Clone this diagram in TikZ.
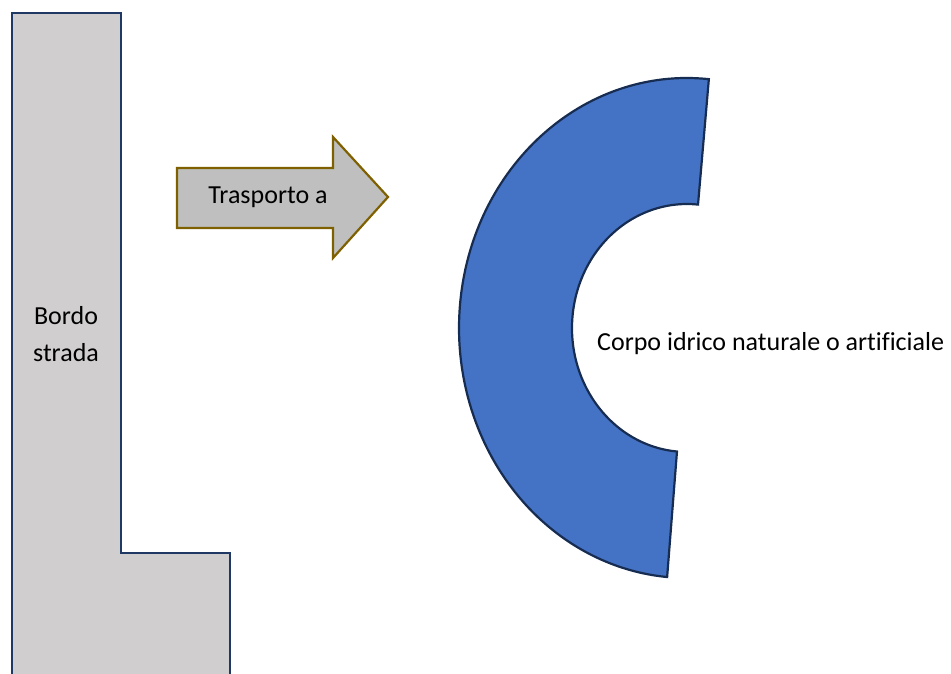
\documentclass[tikz,border=0pt]{standalone}
\usepackage{fontspec}
\setmainfont{Carlito}[Ligatures=NoCommon]
\usepackage{tikz}
\usetikzlibrary{calc}

\definecolor{roadgray}{HTML}{D0CECE}
\definecolor{roadline}{HTML}{1F3864}
\definecolor{arrowgray}{HTML}{BFBFBF}
\definecolor{arrowline}{HTML}{7F6000}
\definecolor{waterblue}{HTML}{4472C4}
\definecolor{waterline}{HTML}{172C51}

\tikzset{
    label text/.style={font=\fontsize{26}{37}\selectfont, align=center, inner sep=0pt}
}

\begin{document}
\begin{tikzpicture}[x=1pt, y=1pt]
    \useasboundingbox (0,0) rectangle (951,673);
    % bordo strada
    \draw[roadline, fill=roadgray, line width=2.4pt] (12,-5) -- (12,660) -- (121,660) -- (121,120) -- (230,120) -- (230,-5);
    \node[label text] (bordo) at (66,339) {Bordo\\strada};
    % freccia
    \draw[arrowline, fill=arrowgray, line width=2.2pt] (177,505) -- (333,505) -- (333,536) -- (388,476) -- (333,415) -- (333,445) -- (177,445) -- cycle;
    \node[label text] (trasporto) at (268,476) {Trasporto a};
    % corpo idrico
    \draw[waterline, fill=waterblue, line width=2.2pt] (687,345) ++(84.5:228 and 250)
        arc[start angle=84.5, end angle=265, x radius=228, y radius=250]
        -- ($(687,345)+(265:115 and 124)$)
        arc[start angle=265, end angle=84.5, x radius=115, y radius=124] -- cycle;
    \node[label text, anchor=west] (corpo) at (597,329) {Corpo idrico naturale o artificiale};
\end{tikzpicture}
\end{document}
